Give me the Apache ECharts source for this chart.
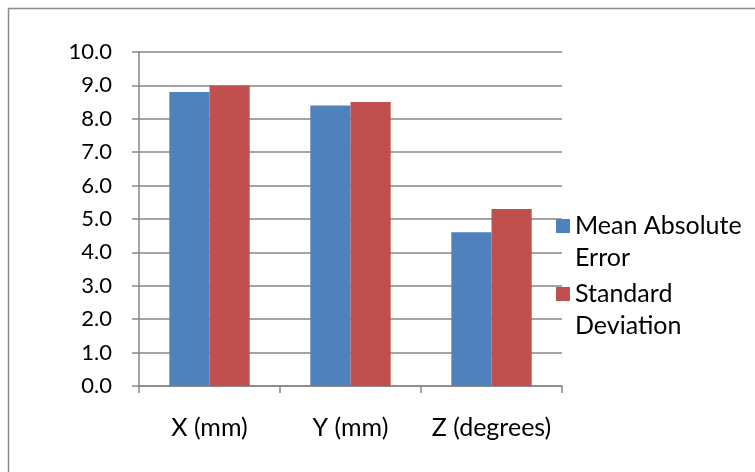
<!DOCTYPE html>
<html>
<head>
<meta charset="utf-8">
<script src="https://cdn.jsdelivr.net/npm/echarts@6/dist/echarts.min.js"></script>
<style>
  html, body { margin: 0; padding: 0; background: #fff; }
  #chart { width: 755px; height: 472px; }
</style>
</head>
<body>
<div id="chart"></div>
<script>
// Measurement axes
const categories = ['X (mm)', 'Y (mm)', 'Z (degrees)'];
// Error statistics per axis
const meanAbsoluteError = [8.8, 8.4, 4.6];
const standardDeviation = [9.0, 8.5, 5.3];
const seriesNames = ['Mean Absolute Error', 'Standard Deviation'];
// Leading blank line puts the marker level with the first wrapped text line
const legendLabels = { 'Mean Absolute Error': '\nMean Absolute\nError', 'Standard Deviation': '\nStandard\nDeviation' };

const FONT = 'Lato, "Open Sans", sans-serif';
const LINE_H = 32;
const chart = echarts.init(document.getElementById('chart'), null, { renderer: 'canvas' });

chart.setOption({
  backgroundColor: '#ffffff',
  animation: false,
  color: ['#4F81BD', '#C0504D'],
  graphic: [{
    type: 'rect',
    shape: { x: 8.5, y: 8.5, width: 900, height: 600 },
    style: { fill: 'none', stroke: '#8a8a8a', lineWidth: 1.5 },
    z: -1
  }],
  grid: { left: 139, right: 193, top: 52, bottom: 86 },
  legend: {
    orient: 'vertical',
    left: 556,
    top: 178,
    padding: 0,
    itemWidth: 14,
    itemHeight: 14,
    itemGap: -28,
    icon: 'rect',
    data: seriesNames,
    formatter: name => legendLabels[name],
    textStyle: {
      fontFamily: FONT,
      fontSize: 25,
      color: '#000',
      lineHeight: LINE_H
    }
  },
  xAxis: {
    type: 'category',
    data: categories,
    axisLine: { lineStyle: { color: '#868686', width: 1.5 } },
    axisTick: { show: true, length: 7, lineStyle: { color: '#868686', width: 1.5 } },
    axisLabel: { interval: 0, margin: 29, fontFamily: FONT, fontSize: 25, color: '#000' }
  },
  yAxis: {
    type: 'value',
    min: 0,
    max: 10,
    interval: 1,
    axisLine: { show: true, lineStyle: { color: '#868686', width: 1.5 } },
    axisTick: { show: true, length: 7, lineStyle: { color: '#868686', width: 1.5 } },
    splitLine: { lineStyle: { color: '#868686', width: 1.5 } },
    axisLabel: {
      margin: 27,
      fontFamily: FONT,
      fontSize: 22,
      color: '#000',
      formatter: v => v.toFixed(1)
    }
  },
  series: [
    {
      name: seriesNames[0],
      type: 'bar',
      data: meanAbsoluteError,
      barGap: '0%',
      barCategoryGap: '43%'
    },
    {
      name: seriesNames[1],
      type: 'bar',
      data: standardDeviation,
      barGap: '0%',
      barCategoryGap: '43%'
    }
  ]
});
</script>
</body>
</html>
